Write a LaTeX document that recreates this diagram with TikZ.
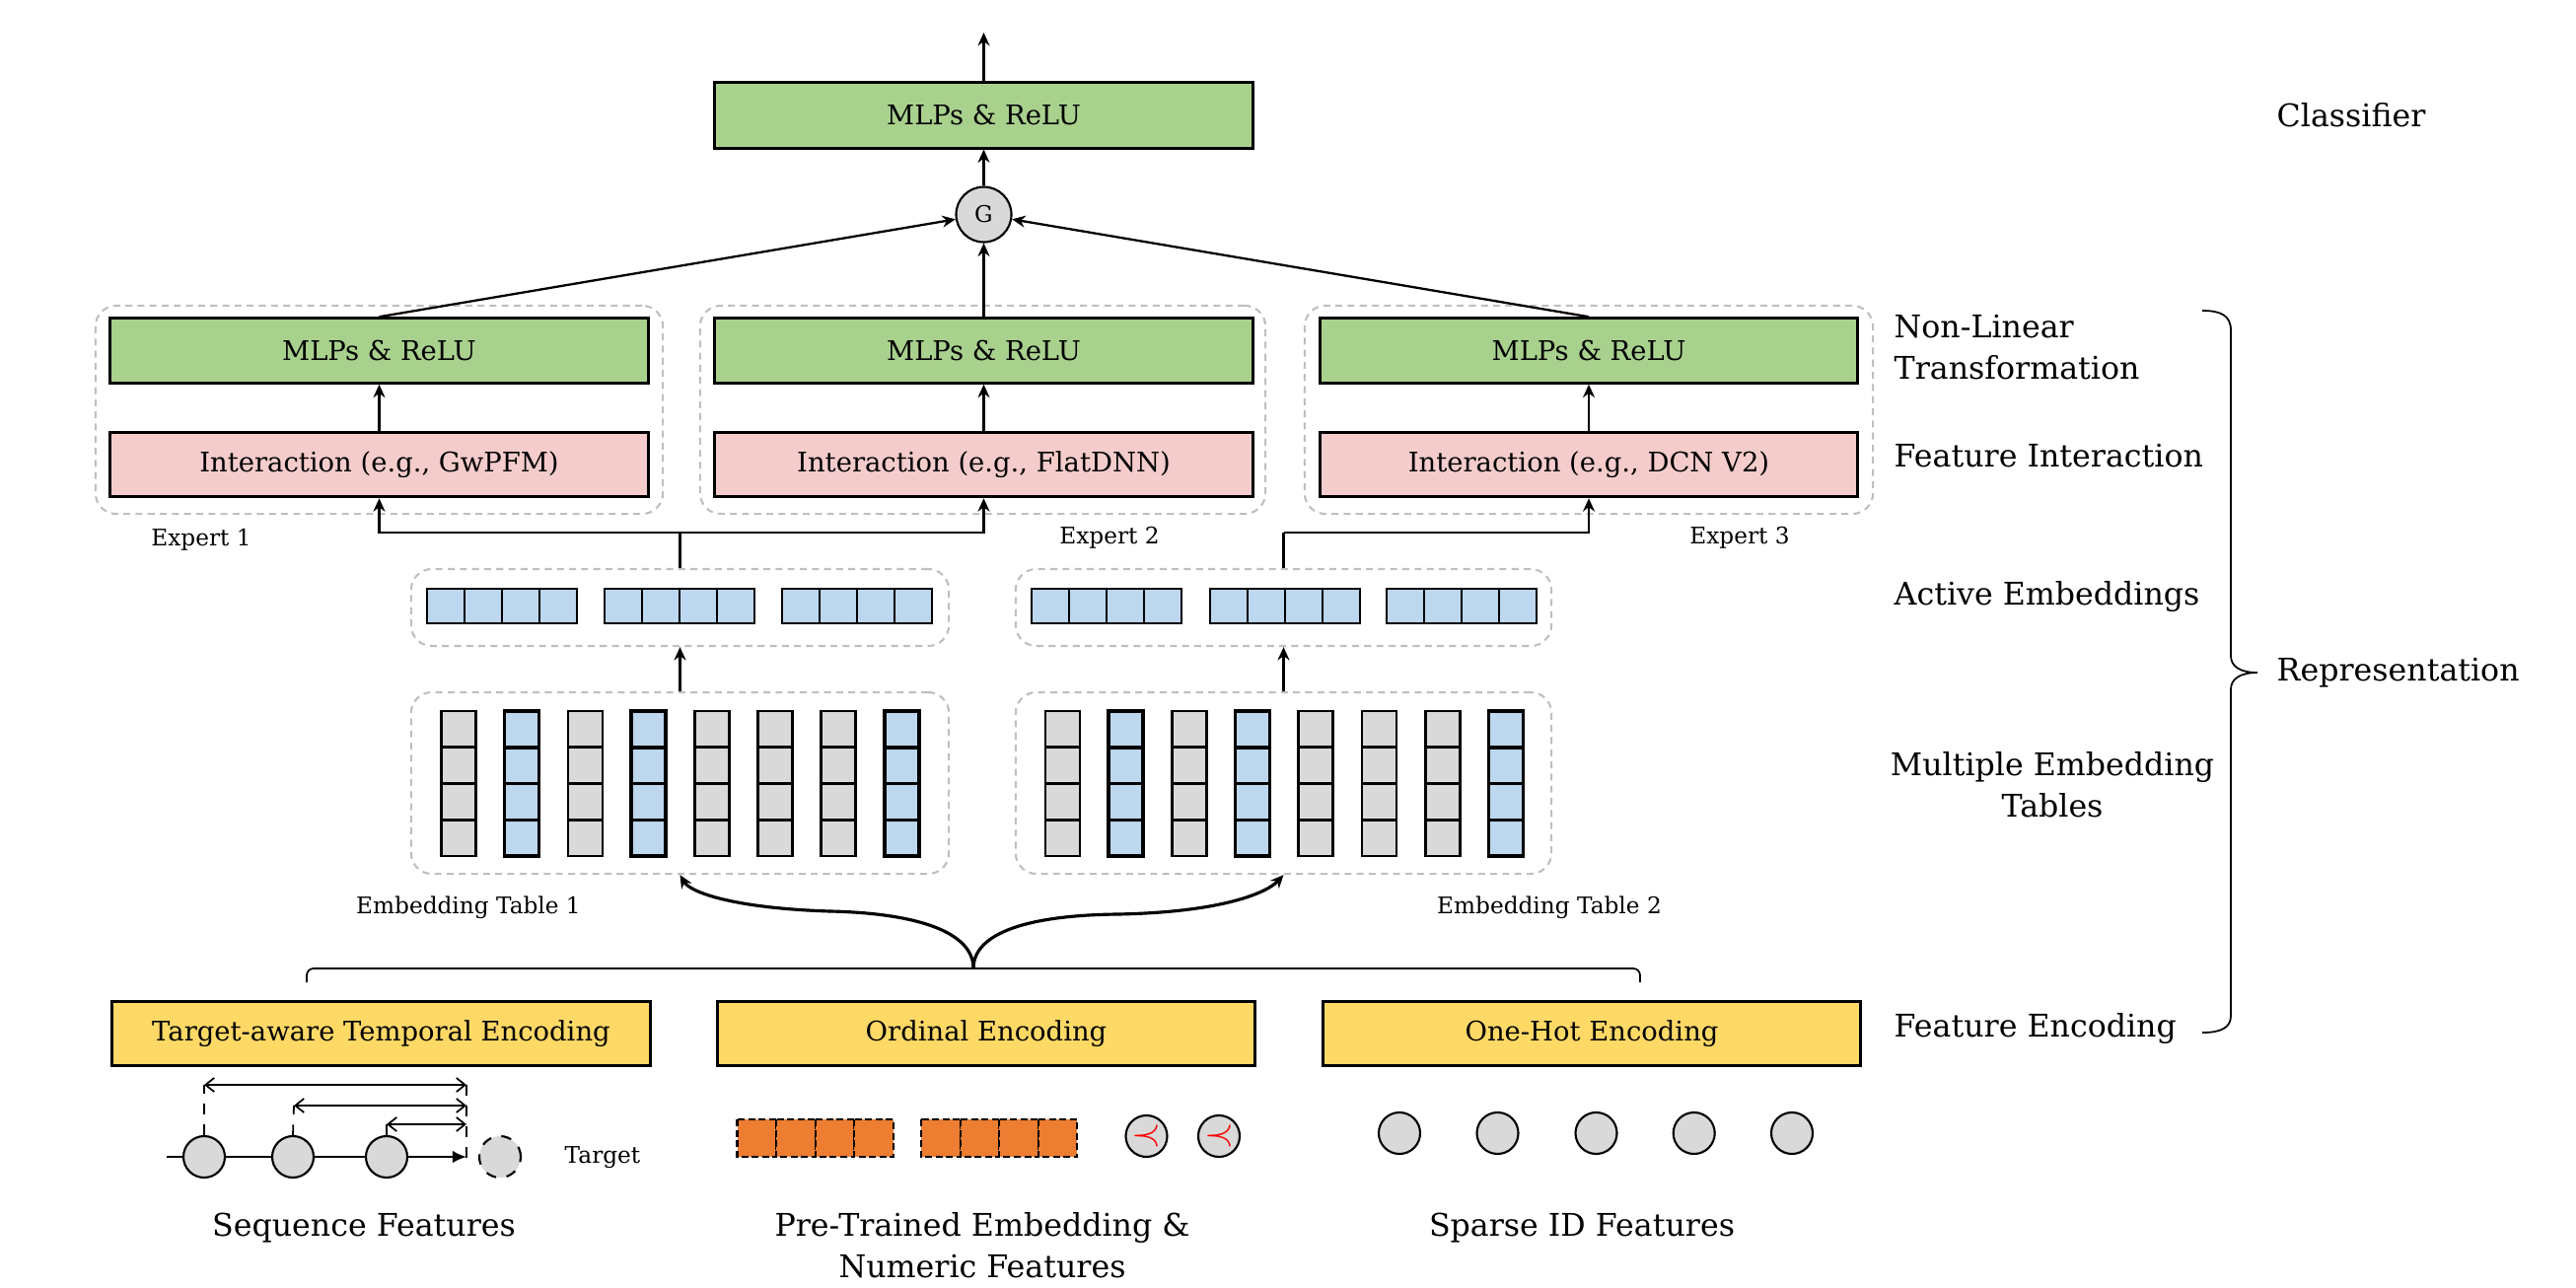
\documentclass[tikz,border=0pt]{standalone}
\usepackage{fontspec}
\setmainfont{DejaVu Serif}
\usetikzlibrary{arrows.meta}
\definecolor{mlp}{HTML}{A9D18E}
\definecolor{inter}{HTML}{F4CCCC}
\definecolor{embblue}{HTML}{BDD7EE}
\definecolor{embgray}{HTML}{D9D9D9}
\definecolor{enc}{HTML}{FFD966}
\definecolor{orng}{HTML}{ED7D31}
\definecolor{dashgray}{HTML}{BFBFBF}
\newcommand{\bigf}{\fontsize{9}{11}\selectfont}
\newcommand{\medf}{\fontsize{7.8}{10}\selectfont}
\newcommand{\smallf}{\fontsize{6.6}{8}\selectfont}
\tikzset{
  box/.style={draw, line width=0.85pt, minimum width=5.45cm, minimum height=0.655cm, inner sep=0pt, font=\medf},
  mlpbox/.style={box, fill=mlp},
  interbox/.style={box, fill=inter},
  encbox/.style={box, fill=enc},
  container/.style={draw=dashgray, dashed, dash pattern=on 2pt off 1.5pt, line width=0.6pt, rounded corners=6pt, inner sep=0pt},
  arr/.style={-{Stealth[length=3.8pt,width=3.4pt]}, line width=0.65pt},
  cell/.style={line width=0.75pt},
  dot/.style={circle, draw, fill=embgray, line width=0.6pt, minimum size=0.42cm, inner sep=0pt},
  biglab/.style={font=\bigf, inner sep=0pt},
  smalllab/.style={font=\smallf, inner sep=0pt},
  meas/.style={{Straight Barb[length=2.5pt,width=4pt]}-{Straight Barb[length=2.5pt,width=4pt]}, line width=0.5pt},
}
\begin{document}
\begin{tikzpicture}[x=0.01cm, y=-0.01cm]
\useasboundingbox (0,0) rectangle (2612,1306);

% ---------- classifier ----------
\node[mlpbox, minimum height=0.66cm] (cls) at (997.5,117) {MLPs \& ReLU};
\coordinate (out) at (997.5,33);
\draw[arr] (cls.north) -- (out);
\node[dot, minimum size=0.56cm, font=\smallf] (G) at (997.5,217.5) {G};
\draw[arr] (G.north) -- (cls.south);

% ---------- experts ----------
\node[container, minimum width=5.75cm, minimum height=2.11cm] (e1) at (384.5,415.5) {};
\node[container, minimum width=5.73cm, minimum height=2.11cm] (e2) at (996.5,415.5) {};
\node[container, minimum width=5.76cm, minimum height=2.11cm] (e3) at (1611,415.5) {};

\node[mlpbox] (m1) at (384.5,355.5) {MLPs \& ReLU};
\node[mlpbox] (m2) at (997.5,355.5) {MLPs \& ReLU};
\node[mlpbox] (m3) at (1611,355.5) {MLPs \& ReLU};
\node[interbox] (i1) at (384.5,471) {Interaction (e.g., GwPFM)};
\node[interbox] (i2) at (997.5,471) {Interaction (e.g., FlatDNN)};
\node[interbox] (i3) at (1611,471) {Interaction (e.g., DCN V2)};

\draw[arr] (i1.north) -- (m1.south);
\draw[arr] (i2.north) -- (m2.south);
\draw[arr] (i3.north) -- (m3.south);
\draw[arr] (m1.north) -- (G);
\draw[arr] (m2.north) -- (G);
\draw[arr] (m3.north) -- (G);

\node[smalllab] (ex1) at (204,547) {Expert 1};
\node[smalllab] (ex2) at (1125,545) {Expert 2};
\node[smalllab] (ex3) at (1764,545) {Expert 3};

% ---------- active embeddings ----------
\node[container, minimum width=5.45cm, minimum height=0.78cm] (a1) at (689.5,616) {};
\node[container, minimum width=5.43cm, minimum height=0.78cm] (a2) at (1301.5,616) {};
\foreach \g in {433,613,793,1046,1227,1406}{
  \foreach \k in {0,...,3}{
    \draw[cell, fill=embblue] (\g+38*\k,597) rectangle (\g+38*\k+38,632);
  }
}
\coordinate (j1) at (689.5,540);
\coordinate (j2) at (1301.5,540);
\draw[line width=0.65pt] (a1.north) -- (j1);
\draw[arr] (j1) -| (i1.south);
\draw[arr] (j1) -| (i2.south);
\draw[line width=0.65pt] (a2.north) -- (j2);
\draw[arr] (j2) -| (i3.south);

% ---------- embedding tables ----------
\node[container, minimum width=5.45cm, minimum height=1.84cm] (t1) at (689.5,794) {};
\node[container, minimum width=5.43cm, minimum height=1.84cm] (t2) at (1301.5,794) {};
\foreach \t in {0,612.5}{
  \foreach \c in {0,2,4,5,6}{
    \foreach \r in {0,...,3}{
      \draw[cell, fill=embgray] (447.5+64.2*\c+\t,721+36.75*\r) rectangle (482.5+64.2*\c+\t,757.75+36.75*\r);
    }
  }
  \foreach \c in {1,3,7}{
    \foreach \r in {0,...,3}{
      \draw[cell, line width=1pt, fill=embblue] (447.5+64.2*\c+\t,721+36.75*\r) rectangle (482.5+64.2*\c+\t,757.75+36.75*\r);
    }
  }
}
\draw[arr] (t1.north) -- (a1.south);
\draw[arr] (t2.north) -- (a2.south);
\node[smalllab] (tl1) at (475,920) {Embedding Table 1};
\node[smalllab] (tl2) at (1571,920) {Embedding Table 2};

% ---------- brace to the tables ----------
\coordinate (bl) at (311,996);
\coordinate (br) at (1663,996);
\coordinate (bc) at (987,982);
\draw[line width=0.5pt, rounded corners=2pt] (bl) -- (311,982) -- (1663,982) -- (br);
\draw[arr, line width=0.9pt] (bc) .. controls (987,945) and (930,926) .. (842,924) .. controls (745,921) and (700,905) .. (t1.south);
\draw[arr, line width=0.9pt] (bc) .. controls (987,945) and (1045,928) .. (1133,927) .. controls (1240,925) and (1285,905) .. (t2.south);

% ---------- feature encoding ----------
\node[encbox] (f1) at (386.5,1048) {Target-aware Temporal Encoding};
\node[encbox] (f2) at (1000,1048) {Ordinal Encoding};
\node[encbox] (f3) at (1614,1048) {One-Hot Encoding};

% ---------- sequence features ----------
\coordinate (sl) at (169,1173);
\coordinate (se) at (473,1173);
\node[dot] (s1) at (207,1173) {};
\node[dot] (s2) at (297,1173) {};
\node[dot] (s3) at (392,1173) {};
\node[dot, dashed] (st) at (507,1173) {};
\draw[line width=0.7pt] (sl) -- (s1) -- (s2) -- (s3);
\draw[-{Latex[length=4pt,width=3.6pt]}, line width=0.7pt] (s3) -- (se);
\coordinate (d1) at (207,1100);
\coordinate (d2) at (298,1121);
\coordinate (d3) at (392,1140);
\coordinate (r1) at (473,1100);
\coordinate (r2) at (473,1121);
\coordinate (r3) at (473,1140);
\coordinate (rb) at (473,1182);
\draw[dashed, line width=0.5pt] (s1.north) -- (d1);
\draw[dashed, line width=0.5pt] (s2.north) -- (d2);
\draw[dashed, line width=0.5pt] (s3.north) -- (d3);
\draw[dashed, line width=0.5pt] (r1) -- (rb);
\draw[meas] (d1) -- (r1);
\draw[meas] (d2) -- (r2);
\draw[meas] (d3) -- (r3);
\node[smalllab] (tg) at (611,1174) {Target};
\node[biglab] (sf) at (369,1245) {Sequence Features};

% ---------- pre-trained / numeric ----------
\foreach \g in {747.5,934}{
  \foreach \k in {0,...,3}{
    \draw[line width=0.6pt, dashed, dash pattern=on 2pt off 1pt, fill=orng] (\g+39.6*\k,1135) rectangle (\g+39.6*\k+39.6,1173);
  }
}
\node[dot, text=red, font=\fontsize{11}{12}\selectfont] (n1) at (1162.5,1152) {$\prec$};
\node[dot, text=red, font=\fontsize{11}{12}\selectfont] (n2) at (1236,1152) {$\prec$};
\node[biglab, align=center] (pf) at (996,1263) {Pre-Trained Embedding \&\\[1pt]Numeric Features};

% ---------- sparse ----------
\node[dot] (p1) at (1419,1149) {};
\node[dot] (p2) at (1518.5,1149) {};
\node[dot] (p3) at (1618.5,1149) {};
\node[dot] (p4) at (1717.7,1149) {};
\node[dot] (p5) at (1817,1149) {};
\node[biglab] (spf) at (1604,1245) {Sparse ID Features};

% ---------- right labels ----------
\node[biglab, anchor=west] (lcl) at (2308,117) {Classifier};
\node[biglab, anchor=west, align=left] (lnl) at (1920,352) {Non-Linear\\[1pt]Transformation};
\node[biglab, anchor=west] (lfi) at (1920,462) {Feature Interaction};
\node[biglab, anchor=west] (lae) at (1920,605) {Active Embeddings};
\node[biglab, align=center] (lme) at (2081,796) {Multiple Embedding\\[1pt]Tables};
\node[biglab, anchor=west] (lfe) at (1920,1043) {Feature Encoding};
\node[biglab, anchor=west] (lrep) at (2308,682) {Representation};
\draw[line width=0.5pt] (2233,315) .. controls (2252,315) and (2262,320) .. (2262,335) -- (2262,665) .. controls (2262,676) and (2272,682) .. (2289,682) .. controls (2272,682) and (2262,688) .. (2262,699) -- (2262,1030) .. controls (2262,1042) and (2252,1047) .. (2233,1047);
\end{tikzpicture}
\end{document}
